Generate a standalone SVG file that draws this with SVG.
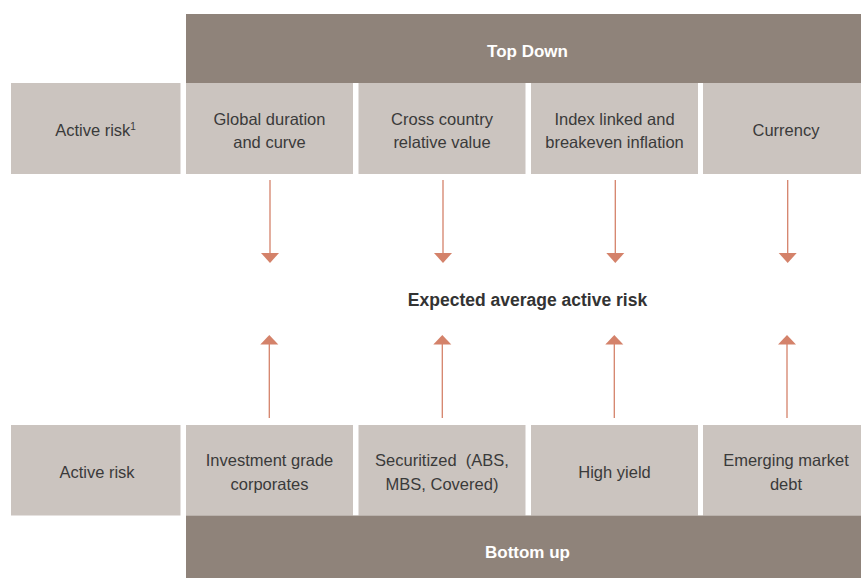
<svg xmlns="http://www.w3.org/2000/svg" width="861" height="578" viewBox="0 0 861 578">
<defs>
<style>
.banner{fill:#8f837a}
.cell{fill:#cbc4bf}
.lbl{font-family:"Liberation Sans",Arial,sans-serif;font-size:16.5px;fill:#3a3a3a;text-anchor:middle}
.hdr{font-family:"Liberation Sans",Arial,sans-serif;font-size:17px;font-weight:bold;fill:#ffffff;text-anchor:middle}
.mid{font-family:"Liberation Sans",Arial,sans-serif;font-size:17.5px;font-weight:bold;fill:#333333;text-anchor:middle}
.conn{stroke:#d4826a;stroke-width:1.3;fill:none}
.head{fill:#d4826a}
</style>
</defs>
<rect width="861" height="578" fill="#ffffff"/>
<g id="top-down">
<rect class="banner" x="186" y="14" width="675" height="69"/>
<text class="hdr" x="527.5" y="57">Top Down</text>
</g>
<g id="top-active-risk">
<rect class="cell" x="11" y="83" width="169.5" height="91"/>
<text class="lbl" x="95.5" y="136">Active risk<tspan font-size="10" dy="-6">1</tspan></text>
</g>
<g id="global-duration">
<rect class="cell" x="186" y="83" width="167" height="91"/>
<text class="lbl" x="269.5" y="125">Global duration</text>
<text class="lbl" x="269.5" y="148">and curve</text>
</g>
<g id="cross-country">
<rect class="cell" x="358.5" y="83" width="167" height="91"/>
<text class="lbl" x="442" y="125">Cross country</text>
<text class="lbl" x="442" y="148">relative value</text>
</g>
<g id="index-linked">
<rect class="cell" x="531" y="83" width="167" height="91"/>
<text class="lbl" x="614.5" y="125">Index linked and</text>
<text class="lbl" x="614.5" y="148">breakeven inflation</text>
</g>
<g id="currency">
<rect class="cell" x="703" y="83" width="158" height="91"/>
<text class="lbl" x="786" y="136">Currency</text>
</g>
<g id="expected">
<text class="mid" x="527.5" y="306">Expected average active risk</text>
</g>
<g id="bottom-active-risk">
<rect class="cell" x="11" y="425" width="169.5" height="90.5"/>
<text class="lbl" x="97" y="478">Active risk</text>
</g>
<g id="investment-grade">
<rect class="cell" x="186" y="425" width="167" height="90.5"/>
<text class="lbl" x="269.5" y="466">Investment grade</text>
<text class="lbl" x="269.5" y="490">corporates</text>
</g>
<g id="securitized">
<rect class="cell" x="358.5" y="425" width="167" height="90.5"/>
<text class="lbl" x="442" y="466" xml:space="preserve">Securitized  (ABS,</text>
<text class="lbl" x="442" y="490">MBS, Covered)</text>
</g>
<g id="high-yield">
<rect class="cell" x="531" y="425" width="167" height="90.5"/>
<text class="lbl" x="614.5" y="478">High yield</text>
</g>
<g id="emerging">
<rect class="cell" x="703" y="425" width="158" height="90.5"/>
<text class="lbl" x="786" y="466">Emerging market</text>
<text class="lbl" x="786" y="490">debt</text>
</g>
<g id="bottom-up">
<rect class="banner" x="186" y="515.5" width="675" height="62.5"/>
<text class="hdr" x="527.5" y="557.5">Bottom up</text>
</g>
<g id="connectors">
<line class="conn" x1="270" y1="180" x2="270" y2="254"/>
<polygon class="head" points="261,253 279,253 270,263"/>
<line class="conn" x1="443" y1="180" x2="443" y2="254"/>
<polygon class="head" points="434,253 452,253 443,263"/>
<line class="conn" x1="615.3" y1="180" x2="615.3" y2="254"/>
<polygon class="head" points="606.3,253 624.3,253 615.3,263"/>
<line class="conn" x1="787.7" y1="180" x2="787.7" y2="254"/>
<polygon class="head" points="778.7,253 796.7,253 787.7,263"/>
<line class="conn" x1="269.3" y1="343" x2="269.3" y2="418"/>
<polygon class="head" points="260.3,344.5 278.3,344.5 269.3,335"/>
<line class="conn" x1="442.3" y1="343" x2="442.3" y2="418"/>
<polygon class="head" points="433.3,344.5 451.3,344.5 442.3,335"/>
<line class="conn" x1="614.3" y1="343" x2="614.3" y2="418"/>
<polygon class="head" points="605.3,344.5 623.3,344.5 614.3,335"/>
<line class="conn" x1="787" y1="343" x2="787" y2="418"/>
<polygon class="head" points="778,344.5 796,344.5 787,335"/>
</g>
</svg>
